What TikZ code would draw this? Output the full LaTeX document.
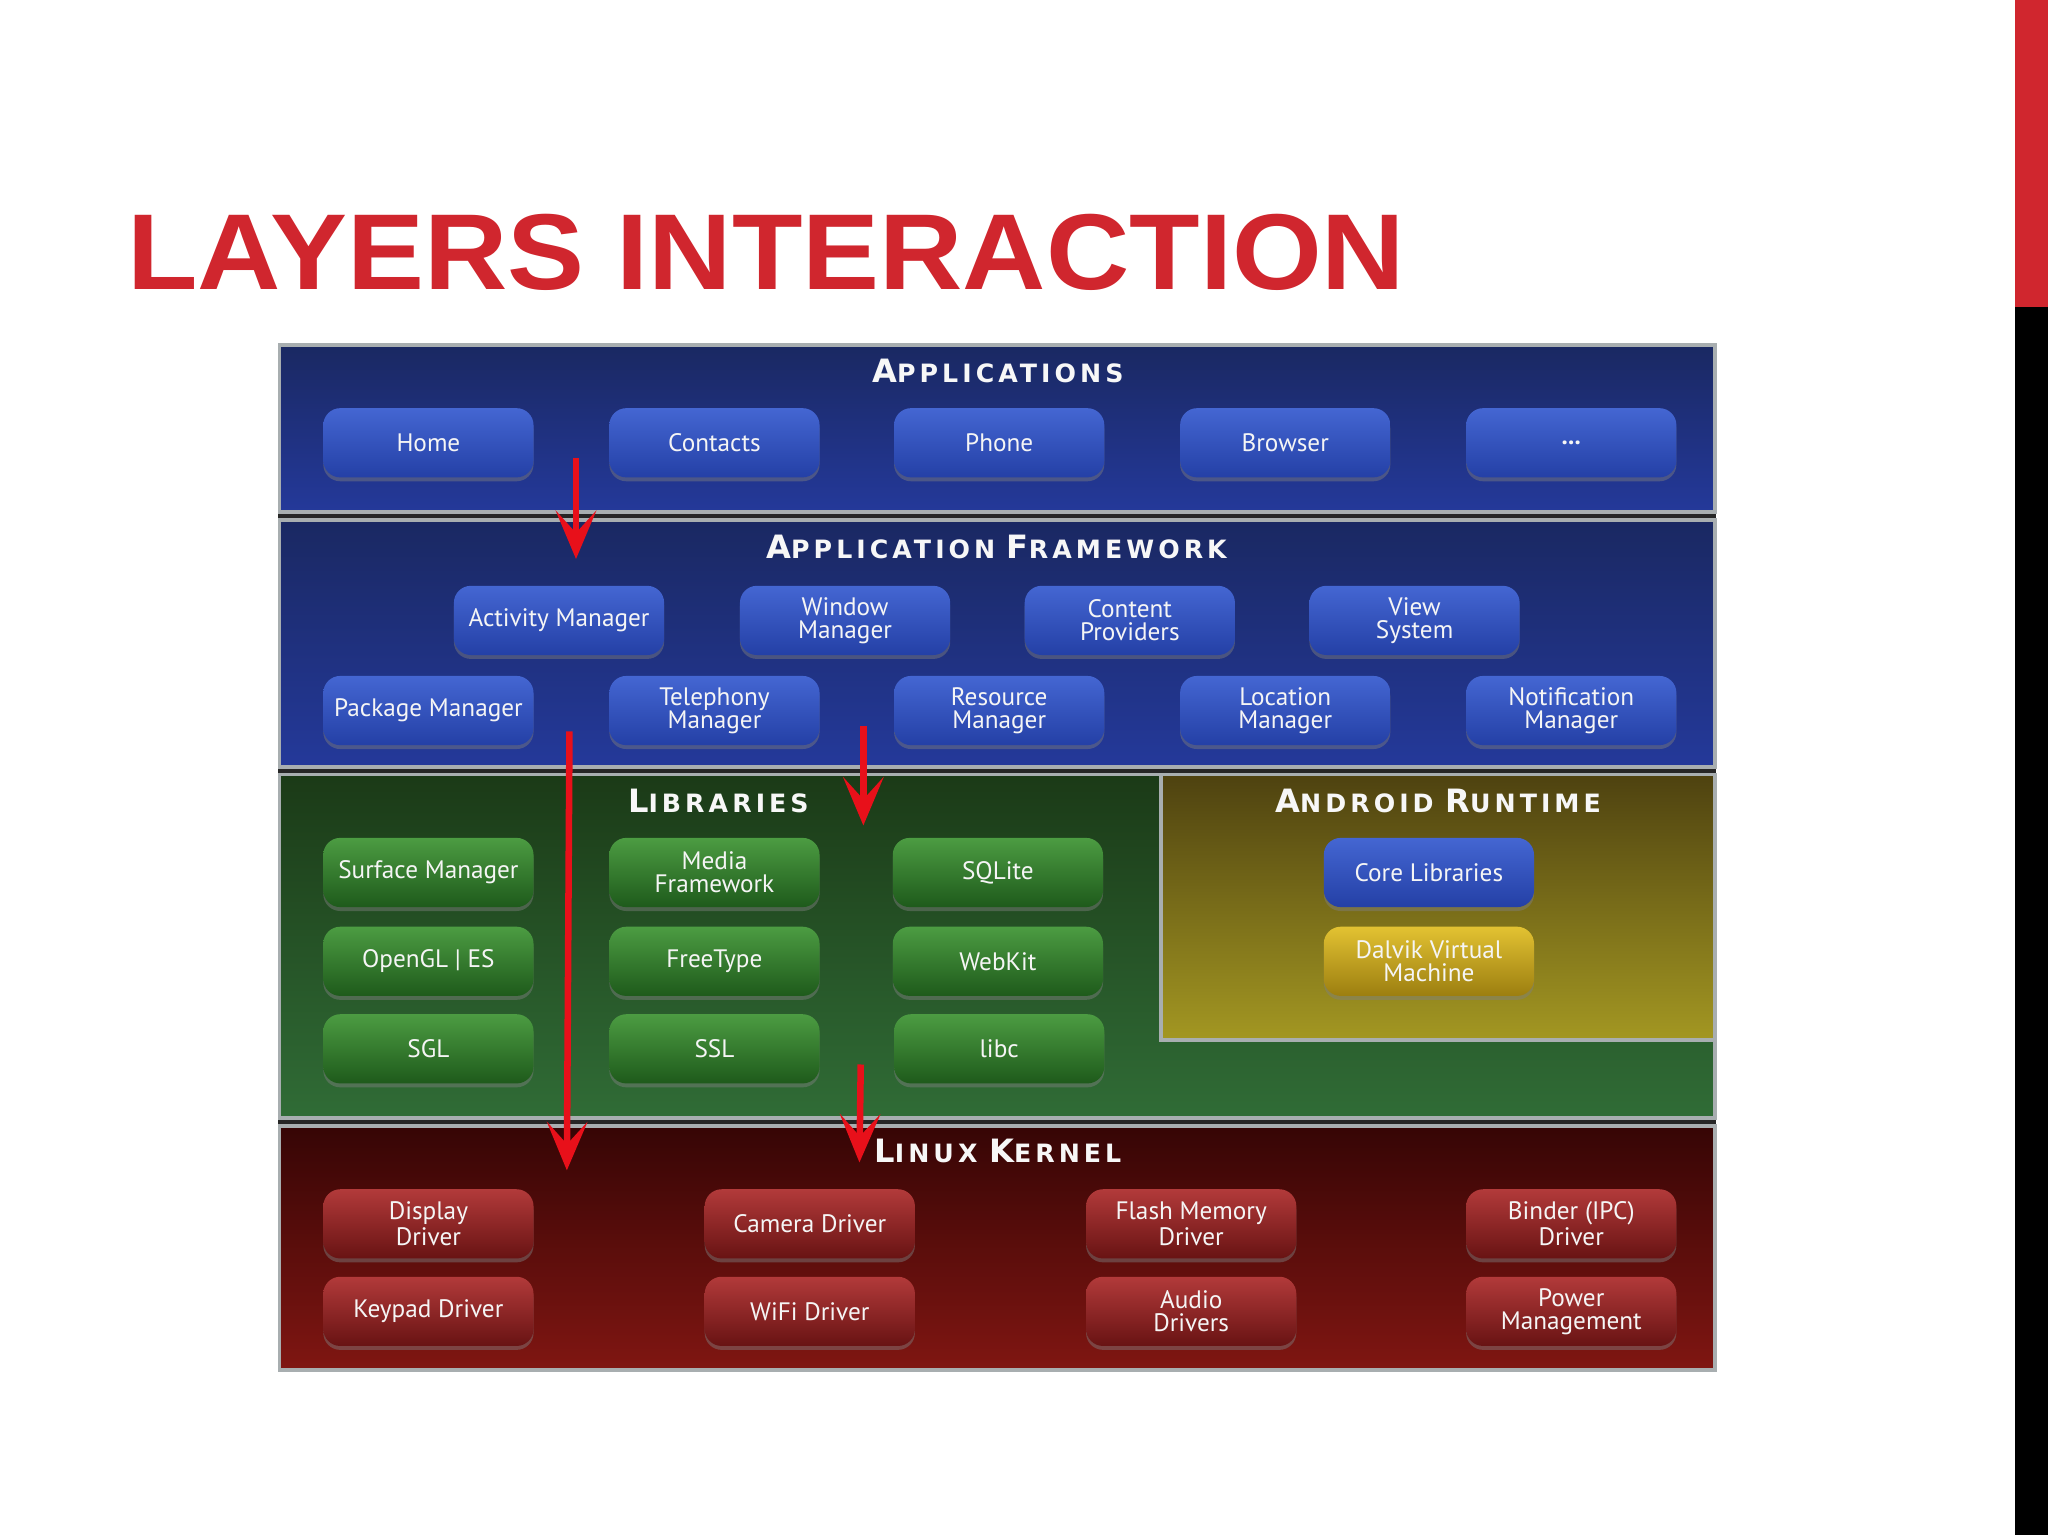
\documentclass[tikz,border=0pt]{standalone}
\usepackage{fontspec}
\setmainfont{PT Sans}
\newfontfamily\titlefont{Liberation Sans}
\newfontfamily\bandfont[LetterSpace=16]{DejaVu Sans}
\usetikzlibrary{arrows.meta,shadows}

\definecolor{titlered}{HTML}{D0262E}
\definecolor{arrowred}{HTML}{E8101A}
\definecolor{bandline}{HTML}{A8AEB0}
\definecolor{appstop}{HTML}{1A2862}
\definecolor{appsbot}{HTML}{24399A}
\definecolor{libstop}{HTML}{1B3A17}
\definecolor{libsbot}{HTML}{306C36}
\definecolor{rttop}{HTML}{4E4210}
\definecolor{rtbot}{HTML}{A39722}
\definecolor{kerntop}{HTML}{360505}
\definecolor{kernbot}{HTML}{801612}
\definecolor{bluetop}{HTML}{4466D2}
\definecolor{bluebot}{HTML}{2440A6}
\definecolor{greentop}{HTML}{4C9C42}
\definecolor{greenbot}{HTML}{1E5A1B}
\definecolor{yellowtop}{HTML}{E2C232}
\definecolor{yellowbot}{HTML}{9C7E10}
\definecolor{redtop}{HTML}{B23A3A}
\definecolor{redbot}{HTML}{681313}

\newcommand\bandsc[2]{{\fontsize{14}{14}\selectfont #1}{\fontsize{11}{11}\selectfont #2}}

\begin{document}
\begin{tikzpicture}[x=0.02cm,y=-0.02cm]
    \tikzstyle{every node}+=[inner sep=0pt]
    \tikzstyle{box}=[rounded corners=0.26cm, minimum width=3.22cm, minimum height=1.06cm, align=center, text=white!92!gray, font=\fontsize{11}{10}\selectfont, drop shadow={opacity=0.45,shadow xshift=0cm,shadow yshift=-0.06cm}]
    \tikzstyle{bluebox}=[box, top color=bluetop, bottom color=bluebot]
    \tikzstyle{greenbox}=[box, top color=greentop, bottom color=greenbot]
    \tikzstyle{yellowbox}=[box, top color=yellowtop, bottom color=yellowbot]
    \tikzstyle{redbox}=[box, top color=redtop, bottom color=redbot]
    \tikzstyle{band}=[draw=bandline, line width=0.06cm]
    \tikzstyle{bandtitle}=[text=white!94!gray, font=\bandfont\bfseries]
    \tikzstyle{flow}=[draw=arrowred, line width=0.1cm, -{Stealth[length=0.74cm,width=0.62cm,inset=0.34cm]}]
    \fill [white] (0,0) rectangle (1568,1175);
    \useasboundingbox (0,0) rectangle (1568,1175);
    \fill [titlered] (1543,0) rectangle (1568,235);
    \fill [black] (1543,235) rectangle (1568,1175);
    \node (title) [anchor=base west, text=titlered, font=\titlefont\bfseries\fontsize{47}{47}\selectfont] at (97,222) {\scalebox{1.07}[1]{LAYERS INTERACTION}};
    \fill [black!85] (213,263) rectangle (1314,1050);
    \shade [band, top color=appstop, bottom color=appsbot] (214,264) rectangle (1313,392);
    \shade [band, top color=appstop, bottom color=appsbot] (214,398) rectangle (1313,587);
    \shade [band, top color=libstop, bottom color=libsbot] (214,593) rectangle (1313,856);
    \shade [band, top color=rttop, bottom color=rtbot] (889,593) rectangle (1313,796);
    \shade [band, top color=kerntop, bottom color=kernbot] (214,862) rectangle (1313,1049);
    \node (apps) [bandtitle] at (764,284) {\bandsc{A}{PPLICATIONS}};
    \node (frame) [bandtitle] at (763,419) {\bandsc{A}{PPLICATION} \bandsc{F}{RAMEWORK}};
    \node (libs) [bandtitle] at (550,613) {\bandsc{L}{IBRARIES}};
    \node (runtime) [bandtitle] at (1101,613) {\bandsc{A}{NDROID} \bandsc{R}{UNTIME}};
    \node (kernel) [bandtitle] at (764,881) {\bandsc{L}{INUX} \bandsc{K}{ERNEL}};
    \node (home) [bluebox] at (328,339) {Home};
    \node (contacts) [bluebox] at (547,339) {Contacts};
    \node (phone) [bluebox] at (765,339) {Phone};
    \node (browser) [bluebox] at (984,339) {Browser};
    \node (more) [bluebox] at (1203,339) {\textbf{...}};
    \node (actmgr) [bluebox] at (428,475) {Activity Manager};
    \node (winmgr) [bluebox] at (647,475) {Window\\Manager};
    \node (content) [bluebox] at (865,475) {Content\\Providers};
    \node (viewsys) [bluebox] at (1083,475) {View\\System};
    \node (pkgmgr) [bluebox] at (328,544) {Package Manager};
    \node (telmgr) [bluebox] at (547,544) {Telephony\\Manager};
    \node (resmgr) [bluebox] at (765,544) {Resource\\Manager};
    \node (locmgr) [bluebox] at (984,544) {Location\\Manager};
    \node (notifmgr) [bluebox] at (1203,544) {Notification\\Manager};
    \node (surface) [greenbox] at (328,668) {Surface Manager};
    \node (media) [greenbox] at (547,668) {Media\\Framework};
    \node (sqlite) [greenbox] at (764,668) {SQLite};
    \node (opengl) [greenbox] at (328,736) {OpenGL | ES};
    \node (freetype) [greenbox] at (547,736) {FreeType};
    \node (webkit) [greenbox] at (764,736) {WebKit};
    \node (sgl) [greenbox] at (328,803) {SGL};
    \node (ssl) [greenbox] at (547,803) {SSL};
    \node (libc) [greenbox] at (765,803) {libc};
    \node (corelib) [bluebox] at (1094,668) {Core Libraries};
    \node (dalvik) [yellowbox] at (1094,736) {Dalvik Virtual\\Machine};
    \node (display) [redbox] at (328,937) {Display\\Driver};
    \node (camera) [redbox] at (620,937) {Camera Driver};
    \node (flash) [redbox] at (912,937) {Flash Memory\\Driver};
    \node (binder) [redbox] at (1203,937) {Binder (IPC)\\Driver};
    \node (keypad) [redbox] at (328,1004) {Keypad Driver};
    \node (wifi) [redbox] at (620,1004) {WiFi Driver};
    \node (audio) [redbox] at (912,1004) {Audio\\Drivers};
    \node (power) [redbox] at (1203,1004) {Power\\Management};
    \coordinate (a1s) at (441,351);
    \coordinate (a1e) at (441,428);
    \coordinate (a2s) at (436,560);
    \coordinate (a2e) at (434,896);
    \coordinate (a3s) at (661,556);
    \coordinate (a3e) at (661,632);
    \coordinate (a4s) at (659,815);
    \coordinate (a4e) at (658,890);
    \draw [flow] (a1s) -- (a1e);
    \draw [flow] (a2s) -- (a2e);
    \draw [flow] (a3s) -- (a3e);
    \draw [flow] (a4s) -- (a4e);
\end{tikzpicture}
\end{document}
